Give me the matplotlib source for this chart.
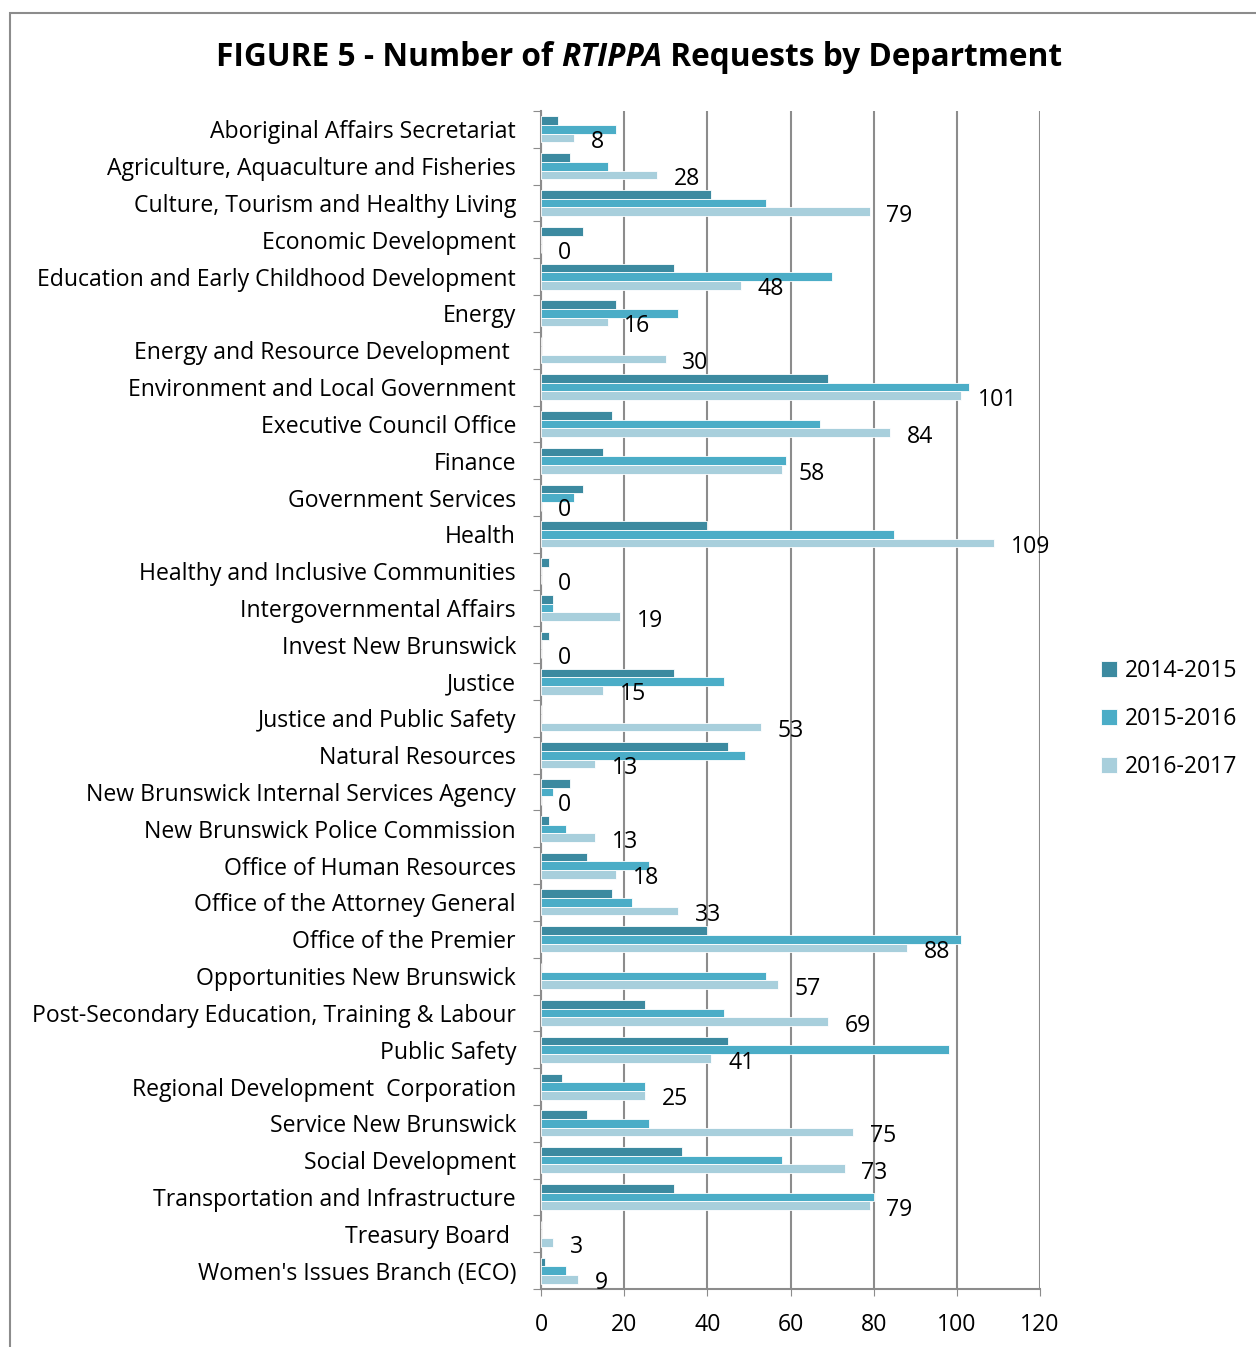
import matplotlib
matplotlib.use("Agg")
import matplotlib.pyplot as plt
import numpy as np
from matplotlib.patches import Rectangle

plt.rcParams["font.family"] = ["Open Sans", "DejaVu Sans"]

departments = [
    "Aboriginal Affairs Secretariat",
    "Agriculture, Aquaculture and Fisheries",
    "Culture, Tourism and Healthy Living",
    "Economic Development",
    "Education and Early Childhood Development",
    "Energy",
    "Energy and Resource Development ",
    "Environment and Local Government",
    "Executive Council Office",
    "Finance",
    "Government Services",
    "Health",
    "Healthy and Inclusive Communities",
    "Intergovernmental Affairs",
    "Invest New Brunswick",
    "Justice",
    "Justice and Public Safety",
    "Natural Resources",
    "New Brunswick Internal Services Agency",
    "New Brunswick Police Commission",
    "Office of Human Resources",
    "Office of the Attorney General",
    "Office of the Premier",
    "Opportunities New Brunswick",
    "Post-Secondary Education, Training & Labour",
    "Public Safety",
    "Regional Development  Corporation",
    "Service New Brunswick",
    "Social Development",
    "Transportation and Infrastructure",
    "Treasury Board ",
    "Women's Issues Branch (ECO)",
]

y2014_15 = [4, 7, 41, 10, 32, 18, 0, 69, 17, 15, 10, 40, 2, 3, 2, 32,
            0, 45, 7, 2, 11, 17, 40, 0, 25, 45, 5, 11, 34, 32, 0, 1]
y2015_16 = [18, 16, 54, 0, 70, 33, 0, 103, 67, 59, 8, 85, 0, 3, 0, 44,
            0, 49, 3, 6, 26, 22, 101, 54, 44, 98, 25, 26, 58, 80, 0, 6]
y2016_17 = [8, 28, 79, 0, 48, 16, 30, 101, 84, 58, 0, 109, 0, 19, 0, 15,
            53, 13, 0, 13, 18, 33, 88, 57, 69, 41, 25, 75, 73, 79, 3, 9]

series = [("2014-2015", y2014_15, "#3C8AA0"),
          ("2015-2016", y2015_16, "#4BADC7"),
          ("2016-2017", y2016_17, "#A8CFDC")]

FS = 16.6
W, H = 1256, 1347
fig = plt.figure(figsize=(W / 100, H / 100), dpi=100)

# outer chart frame (cut by the image edge on right and bottom)
fig.patches.append(Rectangle((10 / W, -0.1), 1.2, 1 - 12.5 / H + 0.1,
                             transform=fig.transFigure, fill=False,
                             edgecolor="#8c8c8c", linewidth=1.5))

ax = fig.add_axes([541 / W, 1 - 1289 / H, (1040 - 541) / W, (1289 - 111) / H])

n = len(departments)
idx = np.arange(n)
bh = 0.235
for k, (name, vals, color) in enumerate(series):
    ax.barh(idx + (k - 1) * bh, vals, height=bh, color=color,
            edgecolor="white", linewidth=0.6, label=name, zorder=3)

for i, v in enumerate(y2016_17):
    ax.annotate(str(v), (v, i + bh), xytext=(12, -3), textcoords="offset points",
                ha="left", va="center", fontsize=FS, color="black", zorder=4)

ax.set_xlim(0, 120)
ax.set_ylim(n - 0.5, -0.5)
ax.set_xticks(np.arange(0, 121, 20))
ax.tick_params(axis="x", labelsize=FS, length=5, color="#8c8c8c", pad=12)

ax.set_yticks(np.arange(n + 1) - 0.5)
ax.set_yticklabels([])
ax.set_yticks(idx, minor=True)
ax.set_yticklabels(departments, minor=True, fontsize=FS)
ax.tick_params(axis="y", which="major", length=6, color="#8c8c8c")
ax.tick_params(axis="y", which="minor", length=0, pad=18)

ax.grid(axis="x", color="#8c8c8c", linewidth=1.5, zorder=0)
for side in ("top", "right"):
    ax.spines[side].set_visible(False)
for side in ("left", "bottom"):
    ax.spines[side].set_color("#8c8c8c")
    ax.spines[side].set_linewidth(1.5)

ax.legend(loc="center left", bbox_to_anchor=(1080 / W, 1 - 719 / H),
          bbox_transform=fig.transFigure, frameon=False, fontsize=FS,
          handlelength=0.7, handleheight=0.7, handletextpad=0.35,
          labelspacing=1.05)

# title with italic RTIPPA
parts = [("FIGURE 5 - Number of ", "normal"), ("RTIPPA", "italic"),
         (" Requests by Department", "normal")]
renderer = fig.canvas.get_renderer()
texts = []
for s, style in parts:
    t = fig.text(0, 1 - 57 / H, s, fontsize=22.8, fontweight="bold",
                 fontstyle=style, va="center", ha="left")
    texts.append(t)
widths = [t.get_window_extent(renderer).width for t in texts]
x = 639 - sum(widths) / 2
for t, w in zip(texts, widths):
    t.set_x(x / W)
    x += w

fig.savefig("out.png", dpi=100)
